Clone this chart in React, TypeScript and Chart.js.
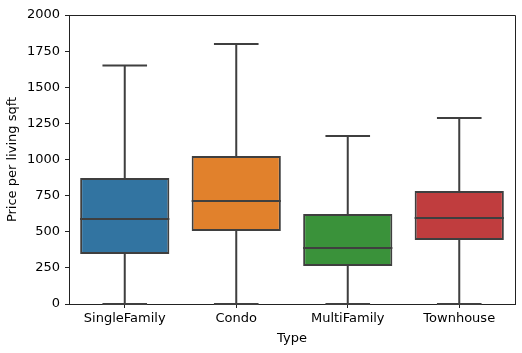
import React, { useEffect, useRef } from "react";
import { Chart, registerables } from "chart.js";

Chart.register(...registerables);

const categories = ["SingleFamily", "Condo", "MultiFamily", "Townhouse"];
const whiskerLow = [0, 0, 0, 0];
const q1 = [346, 505, 263, 443];
const median = [588, 713, 388, 595];
const q3 = [872, 1024, 623, 782];
const whiskerHigh = [1650, 1800, 1163, 1287];
const boxColors = ["#3274a1", "#e1812c", "#3a923a", "#c03d3e"];
const yTicks = [0, 250, 500, 750, 1000, 1250, 1500, 1750, 2000];

const EDGE = "#3f3f3f";
const FONT = "DejaVu Sans";

const boxPlugin = {
  id: "boxExtras",
  afterDatasetsDraw(chart: any) {
    const { ctx, chartArea, scales } = chart;
    const meta = chart.getDatasetMeta(0);
    const y = scales.y;
    ctx.save();
    ctx.strokeStyle = EDGE;
    ctx.lineWidth = 2;
    ctx.lineCap = "butt";
    meta.data.forEach((bar: any, i: number) => {
      const cx = bar.x;
      const w = bar.width;
      const yHi = y.getPixelForValue(whiskerHigh[i]);
      const yLo = y.getPixelForValue(whiskerLow[i]);
      const yQ1 = y.getPixelForValue(q1[i]);
      const yQ3 = y.getPixelForValue(q3[i]);
      const yMed = y.getPixelForValue(median[i]);
      ctx.beginPath();
      ctx.moveTo(cx, yQ3);
      ctx.lineTo(cx, yHi);
      ctx.moveTo(cx - w / 4, yHi);
      ctx.lineTo(cx + w / 4, yHi);
      ctx.moveTo(cx, yQ1);
      ctx.lineTo(cx, yLo);
      ctx.moveTo(cx - w / 4, yLo);
      ctx.lineTo(cx + w / 4, yLo);
      ctx.moveTo(cx - w / 2, yMed);
      ctx.lineTo(cx + w / 2, yMed);
      ctx.stroke();
    });
    ctx.strokeStyle = "#222";
    ctx.lineWidth = 1;
    ctx.beginPath();
    ctx.moveTo(chartArea.left, chartArea.top + 0.5);
    ctx.lineTo(chartArea.right + 0.5, chartArea.top + 0.5);
    ctx.lineTo(chartArea.right + 0.5, chartArea.bottom);
    ctx.stroke();
    ctx.restore();
  },
};

export default function App() {
  const ref = useRef<HTMLCanvasElement>(null);
  useEffect(() => {
    if (!ref.current) return;
    const chart = new Chart(ref.current, {
      type: "bar",
      data: {
        labels: categories,
        datasets: [
          {
            data: categories.map((_, i) => [q1[i], q3[i]]) as any,
            backgroundColor: boxColors,
            borderColor: EDGE,
            borderWidth: 2,
            borderSkipped: false,
            categoryPercentage: 0.8,
            barPercentage: 1,
          },
        ],
      },
      options: {
        responsive: false,
        animation: false,
        layout: { padding: { top: 15, right: 7, left: 0, bottom: 0 } },
        plugins: { legend: { display: false }, tooltip: { enabled: false } },
        scales: {
          x: {
            grid: { display: true, offset: false, drawOnChartArea: false, tickLength: 4, color: "#222", tickWidth: 1 },
            border: { display: true, color: "#222", width: 1 },
            ticks: { color: "#000", font: { family: FONT, size: 13 }, padding: 3, maxRotation: 0 },
            title: { display: true, text: "Type", color: "#000", font: { family: FONT, size: 13 }, padding: { top: 0, bottom: 7 } },
            afterFit: (s: any) => { s.height = 49; },
          },
          y: {
            min: 0,
            max: 2000,
            afterBuildTicks: (s: any) => { s.ticks = yTicks.map((v) => ({ value: v })); },
            grid: { display: true, drawOnChartArea: false, tickLength: 4, color: "#222", tickWidth: 1 },
            border: { display: true, color: "#222", width: 1 },
            ticks: { color: "#000", font: { family: FONT, size: 13 }, padding: 5, callback: (v: any) => String(v) },
            title: { display: true, text: "Price per living sqft", color: "#000", font: { family: FONT, size: 13 }, padding: { top: 5, bottom: 0 } },
            afterFit: (s: any) => { s.width = 69; },
          },
        },
      },
      plugins: [boxPlugin],
    });
    return () => chart.destroy();
  }, []);
  return (
    <div style={{ position: "fixed", left: 0, top: 0, width: 522, height: 353, background: "#fff" }}>
      <canvas ref={ref} width={522} height={353} style={{ display: "block" }} />
    </div>
  );
}
